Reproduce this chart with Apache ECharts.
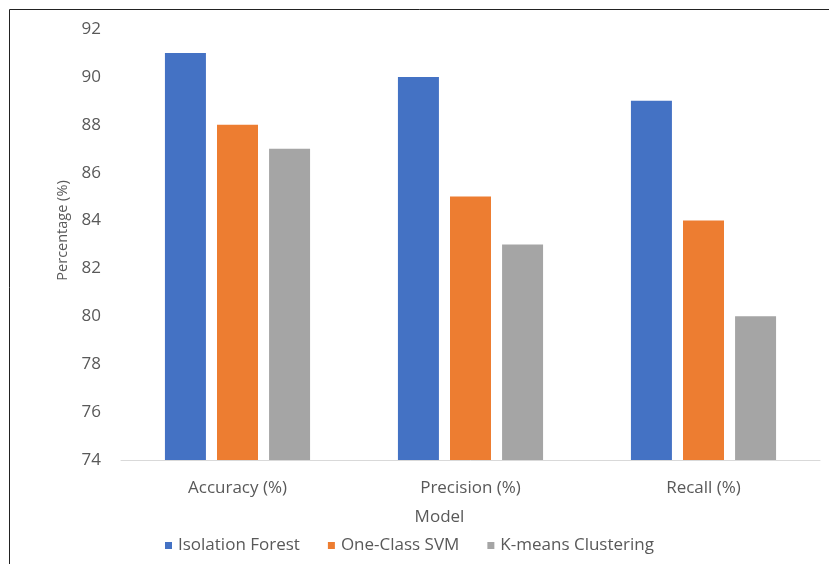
<!DOCTYPE html>
<html>
<head>
<meta charset="utf-8">
<script src="https://cdn.jsdelivr.net/npm/echarts@6/dist/echarts.min.js"></script>
<style>
  html, body { margin: 0; padding: 0; background: #fff; }
  #chart { width: 829px; height: 564px; }
</style>
</head>
<body>
<div id="chart"></div>
<script>
// Metrics compared across the three anomaly-detection models
const categories = ['Accuracy (%)', 'Precision (%)', 'Recall (%)'];
const isolationForest = [91, 90, 89];
const oneClassSVM = [88, 85, 84];
const kMeansClustering = [87, 83, 80];
const seriesNames = ['Isolation Forest', 'One-Class SVM', 'K-means Clustering'];
const yTicks = { min: 74, max: 92, step: 2 };

const textFont = '"Open Sans", "Liberation Sans", sans-serif';
const textColor = '#595959';

const chart = echarts.init(document.getElementById('chart'));
chart.setOption({
  animation: false,
  backgroundColor: '#ffffff',
  textStyle: { fontFamily: textFont },
  graphic: [{
    type: 'rect',
    shape: { x: 9.5, y: 9.5, width: 830, height: 560 },
    style: { fill: 'none', stroke: '#222', lineWidth: 1 },
    silent: true
  }],
  grid: { left: 121, right: 9, top: 29, bottom: 104, containLabel: false },
  legend: {
    data: seriesNames,
    top: 532,
    left: 160,
    icon: 'rect',
    itemWidth: 7,
    itemHeight: 7,
    itemGap: 28,
    textStyle: { fontFamily: textFont, fontSize: 17, color: textColor, padding: [0, 0, 0, 1] }
  },
  xAxis: {
    type: 'category',
    data: categories,
    name: 'Model',
    nameLocation: 'middle',
    nameGap: 49,
    nameTextStyle: { fontFamily: textFont, fontSize: 17, color: textColor, padding: [0, 62, 0, 0] },
    axisLine: { lineStyle: { color: '#d9d9d9', width: 1 } },
    axisTick: { show: false },
    axisLabel: { margin: 20, fontFamily: textFont, fontSize: 17, color: textColor }
  },
  yAxis: {
    type: 'value',
    min: yTicks.min,
    max: yTicks.max,
    interval: yTicks.step,
    name: 'Percentage (%)',
    nameLocation: 'middle',
    nameGap: 48,
    nameTextStyle: { fontFamily: textFont, fontSize: 14.5, color: textColor, padding: [0, 0, 0, 28] },
    axisLine: { show: false },
    axisTick: { show: false },
    splitLine: { show: false },
    axisLabel: { margin: 20, fontFamily: textFont, fontSize: 17, color: textColor }
  },
  series: [
    { name: seriesNames[0], type: 'bar', data: isolationForest, itemStyle: { color: '#4472C4' }, barWidth: 41, barGap: '27%' },
    { name: seriesNames[1], type: 'bar', data: oneClassSVM, itemStyle: { color: '#ED7D31' }, barWidth: 41, barGap: '27%' },
    { name: seriesNames[2], type: 'bar', data: kMeansClustering, itemStyle: { color: '#A5A5A5' }, barWidth: 41, barGap: '27%' }
  ]
});
</script>
</body>
</html>
